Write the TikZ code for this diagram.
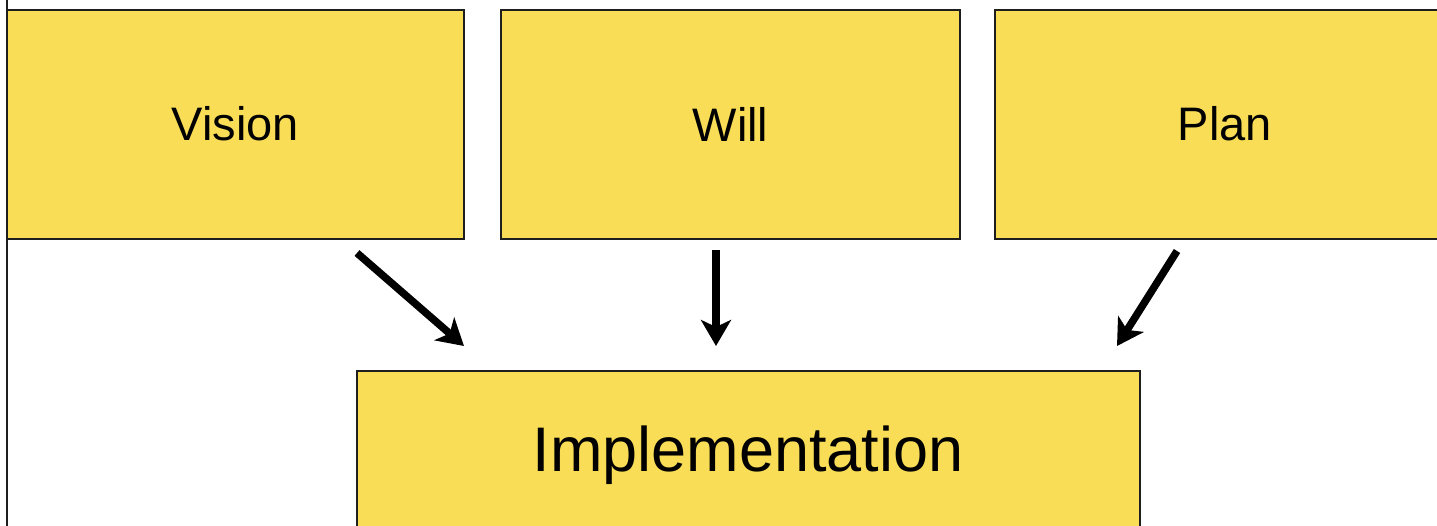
\documentclass[tikz,border=0pt]{standalone}
\usepackage{fontspec}
\setmainfont{Liberation Sans}
\usetikzlibrary{arrows.meta}
\definecolor{boxyellow}{RGB}{249,221,86}
\definecolor{edge}{RGB}{30,30,30}
\tikzset{
  box/.style={draw=edge, line width=1.8pt, fill=boxyellow},
  arr/.style={line width=7.5pt, -{Stealth[length=26pt,width=30pt,inset=7pt]}},
}
\begin{document}
\begin{tikzpicture}[x=1pt,y=-1pt]
\useasboundingbox (0,0) rectangle (1437,525);
\clip (0,0) rectangle (1437,525);
\fill[white] (0,0) rectangle (1437,525);
\draw[box] (7,10) rectangle (464,239);
\draw[box] (501,10) rectangle (960,239);
\draw[box] (995,10) rectangle (1450,239);
\draw[box] (357,371) rectangle (1140,540);
\draw[edge, line width=1.8pt] (7,-5) -- (7,530);
\node[font=\fontsize{47}{50}\selectfont] (vision) at (235.5,124) {Vision};
\node[font=\fontsize{47}{50}\selectfont] (will) at (730.5,124) {Will};
\node[font=\fontsize{47}{50}\selectfont] (plan) at (1225,124) {Plan};
\node[font=\fontsize{63}{66}\selectfont] (impl) at (748,455) {Implementation};
\coordinate (v1) at (357,253);
\coordinate (v2) at (464,346);
\coordinate (w1) at (716,250);
\coordinate (w2) at (716,346);
\coordinate (p1) at (1177,251);
\coordinate (p2) at (1117,346);
\draw[arr] (v1) -- (v2);
\draw[arr] (w1) -- (w2);
\draw[arr] (p1) -- (p2);
\end{tikzpicture}
\end{document}
